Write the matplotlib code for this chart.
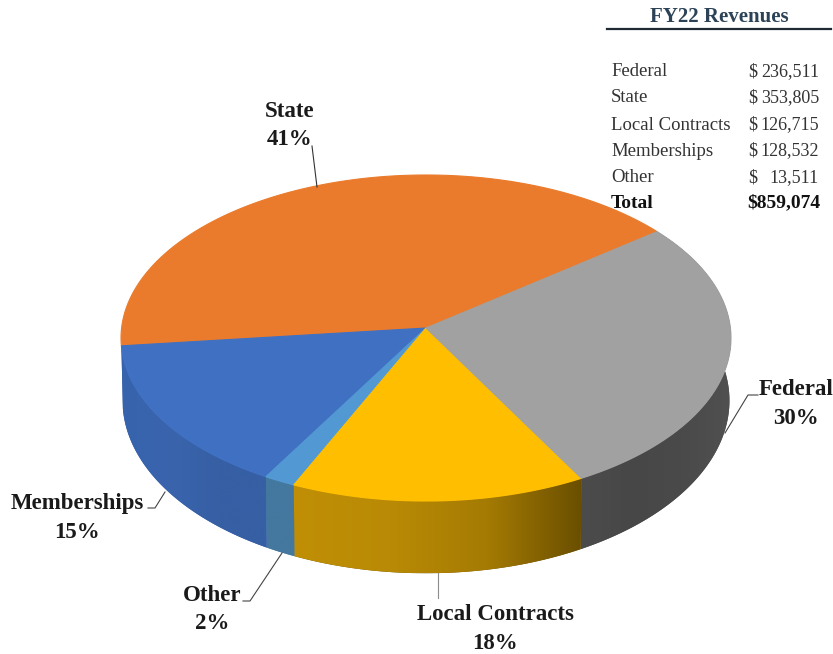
import numpy as np
import matplotlib
matplotlib.use("Agg")
import matplotlib.pyplot as plt
from matplotlib.colors import to_rgb
from matplotlib.patches import Polygon

plt.rcParams['font.family'] = ['Liberation Serif', 'DejaVu Serif']

# Revenue table
categorias = ["Federal", "State", "Local Contracts", "Memberships", "Other"]
ingresos = [236511, 353805, 126715, 128532, 13511]
ingresos_txt = ["236,511", "353,805", "126,715", "128,532", "13,511"]
total_txt = "$859,074"

# Callouts around the pie
porcentajes = ["30%", "41%", "18%", "15%", "2%"]

colores = {"Federal": "#A1A1A1", "State": "#EA7B2C", "Local Contracts": "#FFBE00",
           "Memberships": "#4070C2", "Other": "#5298D3"}
# Shading of the outer wall, left to right
pared = {"Federal": ["#4C4C4C", "#474747", "#4A4A4A", "#505050"],
         "Local Contracts": ["#C08F06", "#B98A05", "#A57B03", "#6A4F00"],
         "Memberships": ["#3763AE", "#3A65AD", "#365FA4", "#365FA4"],
         "Other": ["#44789F", "#44789F"]}

# Tilted disc, projective so that the near edge looks larger
CX, CY = 426.0, 328.0
A, B, K = 304.4, 162.4, 0.0614
INICIO = 38.0


def borde(t, arriba=True):
    t = np.radians(t)
    u, v = np.cos(t), np.sin(t)
    w = 1 + K * v
    if arriba:
        return CX + A * u / w, CY - B * v / w
    return CX + 0.995 * A * u / w, CY + 62 - 172.0 * v / w


fig = plt.figure(figsize=(8.33, 6.54), dpi=100)
ax = fig.add_axes([0, 0, 1, 1])

# angles of each slice, clockwise from the top right
orden = ["State", "Memberships", "Other", "Local Contracts", "Federal"]
valores = dict(zip(categorias, ingresos))
total = sum(ingresos)
angulos = {}
t0 = INICIO
for nombre in ["Federal", "Local Contracts", "Other", "Memberships", "State"]:
    t1 = t0 - 360.0 * valores[nombre] / total
    angulos[nombre] = (t0, t1)
    t0 = t1

# outer walls first
for nombre in ["Federal", "Local Contracts", "Other", "Memberships"]:
    t0, t1 = angulos[nombre]
    ts = np.linspace(t0, t1, 200)
    xa, ya = borde(ts, True)
    xb, yb = borde(ts, False)
    pts = np.column_stack([np.r_[xa, xb[::-1]], np.r_[ya, yb[::-1]]])
    # flat fill underneath closes the seams between the gradients
    ax.add_patch(Polygon(pts, closed=True, fc=pared[nombre][-1], ec="none", zorder=0.5))
    parche = Polygon(pts, closed=True, fc="none", ec="none")
    ax.add_patch(parche)
    cols = np.array([to_rgb(c) for c in pared[nombre]])
    pos = np.linspace(0, 1, len(cols))
    rampa = np.linspace(0, 1, 256)
    img = np.stack([np.interp(rampa, pos, cols[:, i]) for i in range(3)], axis=-1)[None, :, :]
    ext = [pts[:, 0].min(), pts[:, 0].max(), pts[:, 1].max(), pts[:, 1].min()]
    if nombre == "Federal":
        # only the front of this wall is visible
        ext[0] = borde(t1, True)[0]
    im = ax.imshow(img, extent=ext, aspect="auto", interpolation="bilinear", zorder=1)
    im.set_clip_path(parche)

# top face
for nombre in orden:
    t0, t1 = angulos[nombre]
    xa, ya = borde(np.linspace(t0, t1, 200), True)
    pts = np.column_stack([np.r_[CX, xa], np.r_[CY, ya]])
    ax.add_patch(Polygon(pts, closed=True, fc=colores[nombre], ec=colores[nombre], lw=0.8, zorder=2))

ax.set_xlim(0, 833)
ax.set_ylim(654, 0)
ax.axis("off")

# leader lines
lineas = [([312, 317], [146, 187], "#333333"),
          ([758, 748, 725], [395, 395, 433], "#444444"),
          ([438, 438], [573, 598], "#8C8C8C"),
          ([148, 155, 165], [508, 508, 492], "#444444"),
          ([243, 250, 282], [601, 601, 553], "#444444")]
for xs, ys, c in lineas:
    ax.plot(xs, ys, color=c, lw=0.8, zorder=3)

# callouts
etiquetas = {"State": (290, 110, 290, 138), "Federal": (796, 388, 796, 417),
             "Local Contracts": (495, 613, 495, 642), "Memberships": (77, 502, 77, 531),
             "Other": (212, 594, 212, 622)}
for nombre, pct in zip(categorias, porcentajes):
    x1, y1, x2, y2 = etiquetas[nombre]
    ax.text(x1, y1 + 1.5, nombre, ha="center", va="center", fontsize=16.5, fontweight="bold", color="#1A1A1A")
    ax.text(x2, y2 + 1.5, pct, ha="center", va="center", fontsize=16.5, fontweight="bold", color="#1A1A1A")

# revenue table
ax.text(719, 17.5, "FY22 Revenues", ha="center", va="center", fontsize=15, fontweight="bold", color="#2B4257")
ax.plot([607, 831], [29, 29], color="#1F2A33", lw=1.6)
filas = [71, 97, 124, 150, 177]
for y, nombre, txt in zip(filas, categorias, ingresos_txt):
    ax.text(611, y + 1, nombre, ha="left", va="center", fontsize=13.5, color="#333333")
    ax.text(748, y + 1, "$", ha="left", va="center", fontsize=13, color="#333333")
    ax.text(819, y + 1, txt, ha="right", va="center", fontsize=13, color="#333333")
ax.text(611, 203, "Total", ha="left", va="center", fontsize=14, fontweight="bold", color="#111111")
ax.text(820, 203, total_txt, ha="right", va="center", fontsize=14, fontweight="bold", color="#111111")

fig.savefig("out.png", dpi=100, facecolor="white")
